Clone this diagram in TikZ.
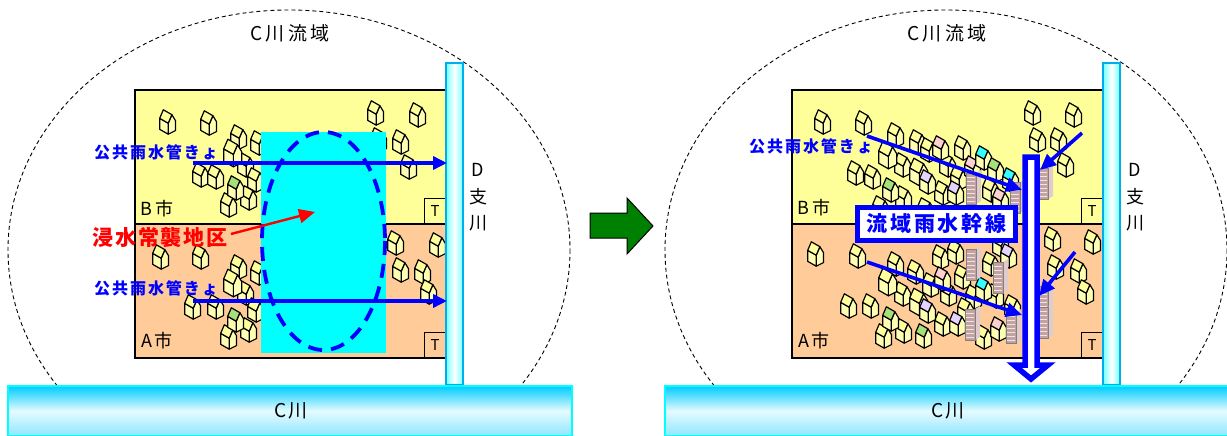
\documentclass[tikz,border=0pt]{standalone}
\usepackage{fontspec}
\setmainfont{Noto Sans CJK JP}
\usetikzlibrary{arrows.meta}
\definecolor{byel}{HTML}{FFFF99}
\definecolor{aora}{HTML}{FFCC99}
\definecolor{hwall}{HTML}{FFFFB4}
\definecolor{hroof}{HTML}{FFFF9C}
\definecolor{rcyan}{HTML}{33FFFF}
\definecolor{rgreen}{HTML}{A6E07A}
\definecolor{rpink}{HTML}{FFD0D0}
\definecolor{rlav}{HTML}{E4D4FF}
\definecolor{flood}{HTML}{00FFFF}
\definecolor{pblue}{HTML}{0000FF}
\definecolor{pred}{HTML}{FF0000}
\definecolor{garrow}{HTML}{008000}
\definecolor{bfront}{HTML}{C4A2A2}
\definecolor{bside}{HTML}{E0CCCC}
\definecolor{bwin}{HTML}{EDE6E6}
\definecolor{rivtop}{HTML}{00CCFF}
\definecolor{rivmid}{HTML}{E4FBFF}
\definecolor{rivbot}{HTML}{8FE6FF}
\tikzset{
  hline/.style={draw=black,line width=1.2pt,line join=round},
  pics/house/.style={code={
    \draw[hline,fill=hwall] (7,-1) -- (4,-6) -- (1,1) -- (1,10) -- (7,7) -- cycle;
    \draw[hline,fill=hwall] (1,1) -- (-6,-3) -- (-6,6) -- (1,10) -- cycle;
    \draw[hline,fill=#1] (4,-6) -- (-3,-10) -- (-6,-3) -- (1,1) -- cycle;
  }},
  pics/house/.default=hroof,
  pics/bldg/.style={code={
    \fill[bside] (3,-15) -- (8,-18) -- (8,13) -- (3,16) -- cycle;
    \fill[bfront] (-7,-15) rectangle (3,16);
    \foreach \yy in {-11,-7,...,13} {\draw[bwin,line width=1pt] (-6,\yy) -- (2,\yy);}
    \draw[gray,line width=0.5pt] (-7,-15) rectangle (3,16);
  }},
  region/.style={draw=black,line width=1.2pt},
  tbox/.style={draw=black,line width=1pt,minimum width=21pt,minimum height=25pt,inner sep=0pt,
    font=\fontsize{15}{15}\selectfont},
  pipe/.style={pblue,line width=3.6pt,-{Triangle[length=14pt,width=13pt]}},
  pipeb/.style={pblue,line width=3.6pt,-{Triangle[length=16pt,width=14pt]}},
  basin/.style={dashed,line width=0.9pt,dash pattern=on 4pt off 3pt},
  lbl/.style={inner sep=0pt},
  pipelbl/.style={inner sep=0pt,font=\fontsize{16}{16}\selectfont\bfseries\addfontfeature{LetterSpace=12},text=pblue},
  dlbl/.style={inner sep=0pt,font=\fontsize{18}{18}\selectfont},
  citylbl/.style={inner sep=0pt,font=\fontsize{18}{18}\selectfont\addfontfeature{LetterSpace=15}},
  hs/.style={scale=1.22},
  hb/.style={scale=1.38},
}
\begin{document}
\begin{tikzpicture}[x=1pt,y=-1pt]
\useasboundingbox (0,0) rectangle (1227,436);

% ---------------- basins (dashed) ----------------
\begin{scope}
\clip (0,0) rectangle (1227,386);
\draw[basin] (289,250) ellipse [x radius=281, y radius=240];
\draw[basin] (946,250) ellipse [x radius=281, y radius=240];
\end{scope}

% ================= LEFT PANEL =================
\draw[region,fill=byel] (135,90) rectangle (446,224);
\draw[region,fill=aora] (135,224) rectangle (446,358);
\node[tbox] (tb1) at (435,211) {T};
\node[tbox] (ta1) at (435,345) {T};

% houses B (left)
\foreach \p in {(167,122),(208,123),(238,137),(258,143),(245,165),(200,175),(215,177),(255,180),(248,198),(228,205),(375,113),(417,115),(378,140),(400,142),(408,167)}
  {\pic[hs] at \p {house};}
\pic[hb] at (232,153) {house};
\pic[hs] at (235,188) {house=rgreen};
% houses A (left)
\foreach \p in {(160,257),(200,257),(238,267),(258,273),(245,293),(192,307),(215,307),(255,310),(248,330),(228,337),(395,243),(437,245),(400,270),(422,272),(428,292)}
  {\pic[hs] at \p {house};}
\pic[hb] at (232,283) {house};
\pic[hs] at (235,320) {house=rgreen};

% flood area
\fill[flood] (261,132) rectangle (386,353);
\draw[pblue,line width=3.8pt,dash pattern=on 14pt off 9pt] (323.5,241) ellipse [x radius=61.5, y radius=109];

% tributary D
\draw[cyan,line width=1.5pt,left color=cyan!55,right color=cyan!55,middle color=white] (446,63) rectangle (463,385);
% main river C
\draw[flood,line width=1.5pt,top color=rivtop,bottom color=rivbot,middle color=rivmid] (8,386) rectangle (572,436);

% pipes left
\coordinate (lu1) at (193,163);
\coordinate (lu2) at (447,163);
\coordinate (ll1) at (193,301);
\coordinate (ll2) at (447,301);
\draw[pipe] (lu1) -- (lu2);
\draw[pipe] (ll1) -- (ll2);

% labels left
\node[lbl] (basinL) at (290,33) {\fontsize{19}{19}\selectfont\addfontfeature{LetterSpace=18}C川流域};
\node[pipelbl] (pipeLU) at (156,152) {公共雨水管きょ};
\node[pipelbl] (pipeLL) at (156,288) {公共雨水管きょ};
\node[lbl,font=\fontsize{21}{21}\selectfont\bfseries\addfontfeature{LetterSpace=9},text=pred] (flood) at (160,238) {浸水常襲地区};
\coordinate (fa) at (315,212);
\draw[pred,line width=2.4pt,-{Triangle[length=16pt,width=14pt]}] (flood.east) ++(3,-4) -- (fa);
\node[citylbl] (cityBL) at (157,209) {B市};
\node[citylbl] (cityAL) at (157,341) {A市};
\node[dlbl] (dL1) at (478,170) {D};
\node[dlbl] (dL2) at (478,197) {支};
\node[dlbl] (dL3) at (478,223) {川};
\node[lbl,font=\fontsize{19}{19}\selectfont\addfontfeature{LetterSpace=12}] (riverL) at (291,411) {C川};

% ---------------- green arrow ----------------
\draw[black,line width=1pt,fill=garrow] (590,213) -- (627,213) -- (627,198) -- (653,226) -- (627,254) -- (627,238) -- (590,238) -- cycle;

% ================= RIGHT PANEL =================
\draw[region,fill=byel] (792,90) rectangle (1103,224);
\draw[region,fill=aora] (792,224) rectangle (1103,358);
\node[tbox] (tb2) at (1092,211) {T};
\node[tbox] (ta2) at (1092,345) {T};

% houses B (right)
\foreach \p in {(822,122),(863,123),(895,135),(917,142),(962,148),(902,165),(947,165),(855,173),(872,177),(942,193),(990,190),(903,198),(928,150),(958,178),(880,208),(925,210),(1032,113),(1073,115),(1037,140),(1058,140),(1065,165)}
  {\pic[hs] at \p {house};}
\pic[hb] at (887,155) {house};
\pic[hb] at (918,172) {house};
\pic[hs] at (890,190) {house=rgreen};
\pic[hs] at (927,182) {house=rlav};
\pic[hs] at (940,148) {house=rpink};
\pic[hs] at (972,168) {house=rpink};
\pic[hs] at (983,158) {house=rcyan};
\pic[hs] at (995,170) {house=rgreen};
\pic[hs] at (1010,180) {house=rcyan};
\pic[hs] at (955,193) {house=rlav};
\pic at (973,188) {bldg};
\pic[hs] at (1000,200) {house=rpink};
\pic at (1017,197) {bldg};
\pic at (1045,183) {bldg};

% houses A (right)
\foreach \p in {(815,254),(857,256),(895,264),(915,272),(940,257),(955,252),(990,264),(962,277),(902,294),(948,294),(995,296),(848,306),(870,306),(1012,307),(942,324),(903,331),(883,336),(983,337),(973,297),(930,285),(965,310),(1000,245),(1052,239),(1092,242),(1055,267),(1078,271),(1085,292)}
  {\pic[hs] at \p {house};}
\pic[hb] at (887,282) {house};
\pic[hb] at (918,302) {house};
\pic[hs] at (890,319) {house=rgreen};
\pic[hs] at (923,336) {house=rgreen};
\pic[hs] at (927,311) {house=rlav};
\pic[hs] at (942,279) {house=rpink};
\pic[hs] at (1008,256) {house=rlav};
\pic[hs] at (983,289) {house=rcyan};
\pic[hs] at (957,324) {house=rlav};
\pic[hs] at (998,329) {house=rpink};
\pic at (973,264) {bldg};
\pic at (1000,277) {bldg};
\pic at (972,324) {bldg};
\pic at (1013,327) {bldg};
\pic at (1045,301) {bldg};
\pic at (1045,322) {bldg};

% tributary D (right)
\draw[cyan,line width=1.5pt,left color=cyan!55,right color=cyan!55,middle color=white] (1103,63) rectangle (1120,385);
% main river C (right)
\draw[flood,line width=1.5pt,top color=rivtop,bottom color=rivbot,middle color=rivmid] (665,386) rectangle (1230,436);

% trunk sewer
\draw[pblue,line width=5.5pt,fill=white,line join=miter] (1025,157) -- (1037,157) -- (1037,365) -- (1048,365) -- (1031,379) -- (1014,365) -- (1025,365) -- cycle;
\coordinate (trU) at (1022,190);
\coordinate (trUR) at (1040,170);
\coordinate (trL) at (1022,315);
\coordinate (trLR) at (1039,296);

% pipes right
\coordinate (ru1) at (867,136);
\coordinate (ru2) at (1082,133);
\coordinate (rl1) at (867,262);
\coordinate (rl2) at (1075,252);
\draw[pipeb] (ru1) -- (trU);
\draw[pipeb] (ru2) -- (trUR);
\draw[pipeb] (rl1) -- (trL);
\draw[pipeb] (rl2) -- (trLR);

% trunk label
\node[draw=pblue,line width=5pt,fill=white,minimum width=158pt,minimum height=33pt,inner sep=0pt,
  font=\fontsize{21}{21}\selectfont\bfseries\addfontfeature{LetterSpace=14},text=pblue] (trunk) at (936.5,224) {流域雨水幹線};

% labels right
\node[lbl] (basinR) at (947,33) {\fontsize{19}{19}\selectfont\addfontfeature{LetterSpace=18}C川流域};
\node[pipelbl] (pipeRU) at (811,146) {公共雨水管きょ};
\node[citylbl] (cityBR) at (814,208) {B市};
\node[citylbl] (cityAR) at (814,341) {A市};
\node[dlbl] (dR1) at (1135,170) {D};
\node[dlbl] (dR2) at (1135,197) {支};
\node[dlbl] (dR3) at (1135,223) {川};
\node[lbl,font=\fontsize{19}{19}\selectfont\addfontfeature{LetterSpace=12}] (riverR) at (948,411) {C川};
\end{tikzpicture}
\end{document}
